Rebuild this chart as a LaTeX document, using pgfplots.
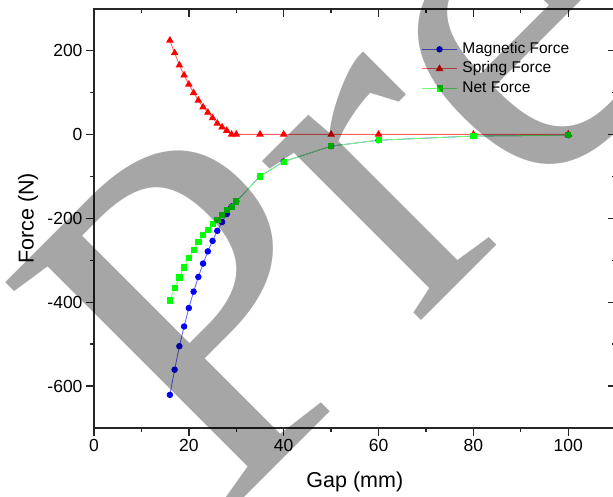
\documentclass[border=0pt]{standalone}
\usepackage{fontspec}
\setmainfont{Liberation Sans}
\newfontfamily\wm{Liberation Serif}
\usepackage{pgfplots}
\pgfplotsset{compat=1.18}
\definecolor{magblue}{HTML}{0000FF}
\definecolor{sprred}{HTML}{FF0000}
\definecolor{netgreen}{HTML}{00FF00}
\definecolor{magline}{HTML}{6060FF}
\definecolor{sprline}{HTML}{FF6060}
\definecolor{netline}{HTML}{70FF70}

\pgfplotsset{
  frame/.style={
    scale only axis, at={(0,0)}, anchor=south west,
    width=521.7bp, height=419.5bp,
    xmin=0, xmax=110, ymin=-700, ymax=300,
    xtick={0,20,...,100}, ytick={-600,-400,...,200},
    minor x tick num=1, minor y tick num=1,
    major tick length=8bp, minor tick length=4bp,
    axis line style={line width=2bp, black!85},
    every tick/.style={line width=1.3bp, black!85},
    /pgf/number format/assume math mode=true,
    tick label style={font=\fontsize{17.5bp}{20bp}\selectfont},
  },
  legend image code/.code={
    \draw[mark repeat=2,mark phase=2,#1] plot coordinates {(0bp,0bp) (17.5bp,0bp) (35bp,0bp)};
  },
}

\begin{document}
\begin{tikzpicture}
\useasboundingbox (-94bp,-69bp) rectangle (519bp,428bp);

\begin{axis}[
  frame,
  xtick pos=left, ytick pos=left, tick align=outside,
  xlabel={Gap (mm)}, ylabel={Force (N)},
  label style={font=\fontsize{21.5bp}{24bp}\selectfont},
  xlabel style={at={(axis description cs:0.5,-0.1287)}, anchor=center},
  ylabel style={at={(axis description cs:-0.1265,0.5)}, anchor=center},
  legend style={draw=none, fill=none, inner sep=0pt, outer sep=0pt,
    at={(rel axis cs:0.628,0.9218)}, anchor=north west,
    row sep=3.5bp,
    font=\fontsize{15.5bp}{18bp}\selectfont,
    nodes={inner sep=0pt, text height=12bp, text depth=4bp}},
  legend cell align=left,
  /tikz/every odd column/.append style={column sep=5bp},
]
\addplot[color=magline, line width=0.8bp, mark=*, mark size=2.8bp,
  mark options={draw=magblue, fill=magblue}] coordinates {
  (16,-621) (17,-561) (18,-505) (19,-458) (20,-414) (21,-375) (22,-340)
  (23,-308) (24,-279) (25,-254) (26,-230) (27,-209) (28,-190) (29,-172)
  (30,-160) (35,-100) (40,-65) (50,-28) (60,-14) (80,-4) (100,-2)
};
\addlegendentry{Magnetic Force}
\addplot[color=sprline, line width=0.8bp, mark=triangle*, mark size=3.6bp,
  mark options={draw=sprred, fill=sprred}] coordinates {
  (16,224) (17,194) (18,165) (19,141) (20,119) (21,99) (22,81)
  (23,65) (24,52) (25,39) (26,26) (27,17) (28,9) (29,0)
  (30,0) (35,0) (40,0) (50,0) (60,0) (80,0) (100,0)
};
\addlegendentry{Spring Force}
\addplot[color=netline, line width=0.8bp, mark=square*, mark size=2.6bp,
  mark options={draw=netgreen, fill=netgreen}] coordinates {
  (16,-396) (17,-366) (18,-341) (19,-317) (20,-294) (21,-275) (22,-256)
  (23,-240) (24,-227) (25,-213) (26,-204) (27,-192) (28,-181) (29,-172)
  (30,-160) (35,-100) (40,-65) (50,-28) (60,-14) (80,-4) (100,-2)
};
\addlegendentry{Net Force}
\end{axis}

\begin{axis}[
  frame,
  xtick pos=right, ytick pos=right, tick align=inside,
  xticklabels={}, yticklabels={},
]
\end{axis}

\node[anchor=base west, inner sep=0pt, rotate=45, text=black, text opacity=0.35,
  font=\wm\fontsize{490bp}{490bp}\selectfont] at (128bp,-92bp) {Pre};
\end{tikzpicture}
\end{document}
